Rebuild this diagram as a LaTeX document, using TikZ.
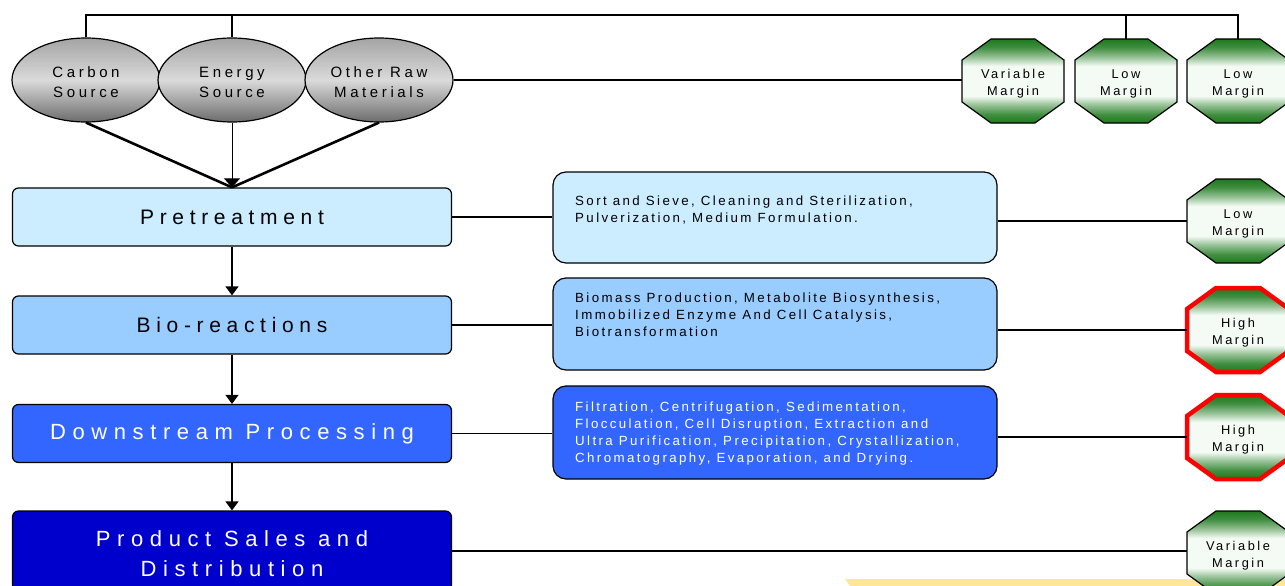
\documentclass[tikz,border=0pt]{standalone}
\usepackage{fontspec}
\setmainfont{Liberation Sans}
\newfontfamily\spacedbig[LetterSpace=30]{Liberation Sans}
\newfontfamily\spacedwide[LetterSpace=27]{Liberation Sans}
\newfontfamily\spacedmid[LetterSpace=24]{Liberation Sans}
\newfontfamily\spacedsmall[LetterSpace=20]{Liberation Sans}
\newfontfamily\spacedtight[LetterSpace=18]{Liberation Sans}
\usetikzlibrary{shapes.geometric,arrows.meta}

\definecolor{pretreatblue}{HTML}{CCECFF}
\definecolor{bioblue}{HTML}{99CCFF}
\definecolor{downblue}{HTML}{3366FF}
\definecolor{prodblue}{HTML}{0000CC}
\definecolor{octgreen}{HTML}{1E7A1E}
\definecolor{octlight}{HTML}{F4FAF4}
\definecolor{graytop}{HTML}{A4A4A4}
\definecolor{graymid}{HTML}{DADADA}
\definecolor{graybot}{HTML}{6C6C6C}
\definecolor{stripyellow}{HTML}{FFE699}

% green fading to white in the middle of the margin markers
\pgfdeclareverticalshading{octshade}{100bp}{%
  color(0bp)=(octgreen); color(25bp)=(octgreen); color(30bp)=(octgreen!85!white);
  color(36bp)=(octgreen!45!white); color(41bp)=(octlight);
  color(59bp)=(octlight); color(64bp)=(octgreen!45!white);
  color(70bp)=(octgreen!85!white); color(75bp)=(octgreen); color(100bp)=(octgreen)}

% octagonal margin marker: name, x, y, label, extra border style
\newcommand\marginoct[5]{%
  \begin{scope}[shift={(#2,#3)}]
    \draw[octbody,#5] (-22,-42) -- (22,-42) -- (51,-21) -- (51,21) -- (22,42)
      -- (-22,42) -- (-51,21) -- (-51,-21) -- cycle;
    \node[octframe] (#1) at (0,0) {};
    \node[octlabel] (#1-text) at (0,2.5) {#4};
  \end{scope}}

\begin{document}
\begin{tikzpicture}[x=1pt,y=-1pt,
  stage/.style={draw=black, line width=1.2pt, rounded corners=6pt,
    minimum width=439pt, minimum height=58pt, inner sep=0pt, align=center,
    font=\spacedwide\fontsize{21}{30}\selectfont},
  bigstage/.style={font=\spacedbig\fontsize{22}{30}\selectfont},
  stagetext/.style={inner sep=0pt, align=center, text=white,
    font=\spacedbig\fontsize{22}{30}\selectfont},
  detail/.style={draw=black, line width=1.2pt, rounded corners=13pt,
    minimum width=444pt, inner sep=0pt},
  detailtext/.style={anchor=west, align=left, inner sep=0pt,
    font=\spacedtight\fontsize{13.3}{17}\selectfont},
  source/.style={ellipse, draw=black, line width=1.2pt, minimum width=148pt,
    minimum height=84pt, inner sep=0pt,
    top color=graytop, bottom color=graybot, middle color=graymid},
  sourcetext/.style={inner sep=0pt, align=center,
    font=\spacedmid\fontsize{15}{20}\selectfont},
  octbody/.style={draw=black, line width=1.2pt, line join=miter, shading=octshade},
  highmargin/.style={draw=red, line width=4.5pt},
  octframe/.style={minimum width=102pt, minimum height=84pt, inner sep=0pt},
  octlabel/.style={inner sep=0pt, align=center,
    font=\spacedsmall\fontsize{12.8}{17}\selectfont},
  link/.style={line width=1.2pt},
  feed/.style={line width=2.6pt},
  flow/.style={line width=1.2pt, -{Triangle[length=9pt,width=13pt]}}]

\useasboundingbox (0,0) rectangle (1285,586);
\clip (0,0) rectangle (1285,586);

% strip along the lower edge
\fill[stripyellow] (845,579) -- (1285,579) -- (1285,586) -- (850,586) -- cycle;

% raw material sources
\node[source] (carbon) at (86,80) {};
\node[sourcetext] (carbon-text) at (86,82) {Carbon\\Source};
\node[source] (energy) at (232,80) {};
\node[sourcetext] (energy-text) at (232,82) {Energy\\Source};
\node[source] (other) at (379,80) {};
\node[sourcetext] (other-text) at (379,82) {Other Raw\\Materials};

% process stages
\node[stage, fill=pretreatblue] (pre) at (232,217) {Pretreatment};
\node[stage, fill=bioblue] (bio) at (232,325) {Bio-reactions};
\node[stage, bigstage, fill=downblue, text=white] (down) at (232,433.5) {Downstream Processing};
\node[stage, fill=prodblue, minimum height=80pt] (prod) at (232,551) {};
\node[stagetext] (prod-text) at (232,554) {Product Sales and\\Distribution};

% operation details
\node[detail, fill=pretreatblue, minimum height=91pt] (dpre) at (775,217.5) {};
\node[detailtext] (tpre) at (575,210)
  {Sort and Sieve, Cleaning and Sterilization,\\Pulverization, Medium  Formulation.};
\node[detail, fill=bioblue, minimum height=92pt] (dbio) at (775,324) {};
\node[detailtext] (tbio) at (575,315)
  {Biomass Production, Metabolite Biosynthesis,\\Immobilized Enzyme And Cell Catalysis,\\Biotransformation};
\node[detail, fill=downblue, minimum height=93pt] (ddown) at (775,432.5) {};
\node[detailtext, text=white] (tdown) at (575,434)
  {Filtration, Centrifugation, Sedimentation,\\Flocculation, Cell Disruption, Extraction and\\Ultra Purification, Precipitation, Crystallization,\\Chromatography, Evaporation, and Drying.};

% margin markers
\marginoct{mvar}{1013}{81}{Variable\\Margin}{}
\marginoct{mlowa}{1126}{81}{Low\\Margin}{}
\marginoct{mlowb}{1238}{81}{Low\\Margin}{}
\marginoct{mpre}{1238}{221}{Low\\Margin}{}
\marginoct{mbio}{1238}{330}{High\\Margin}{highmargin}
\marginoct{mdown}{1238}{437}{High\\Margin}{highmargin}
\marginoct{mprod}{1238}{553}{Variable\\Margin}{}

% top bus linking sources and margins
\coordinate (bar) at (0,15);
\draw[link] (carbon.north) -- (carbon.north |- bar) -- (mlowb.north |- bar) -- (mlowb.north);
\draw[link] (energy.north) -- (energy.north |- bar);
\draw[link] (mlowa.north) -- (mlowa.north |- bar);
\draw[link] (other.east) -- (other.east -| mvar.west);

% feeds into pretreatment
\draw[feed] (carbon.south) -- (pre.north);
\draw[feed] (other.south) -- (pre.north);
\draw[line width=1pt, -{Triangle[length=9pt,width=16pt]}] (energy.south) -- (pre.north);

% stage sequence
\draw[flow] (pre.south) -- (bio.north);
\draw[flow] (bio.south) -- (down.north);
\draw[flow] (down.south) -- (prod.north);

% stage to details to margins
\draw[link] (pre.east) -- (pre.east -| dpre.west);
\draw[link] (bio.east) -- (bio.east -| dbio.west);
\draw[link] (down.east) -- (down.east -| ddown.west);
\draw[link] (dpre.east |- mpre.west) -- (mpre.west);
\draw[link] (dbio.east |- mbio.west) -- (mbio.west);
\draw[link] (ddown.east |- mdown.west) -- (mdown.west);
\draw[link] (prod.east |- 0,551) -- (mprod.west |- 0,551);
\end{tikzpicture}
\end{document}
